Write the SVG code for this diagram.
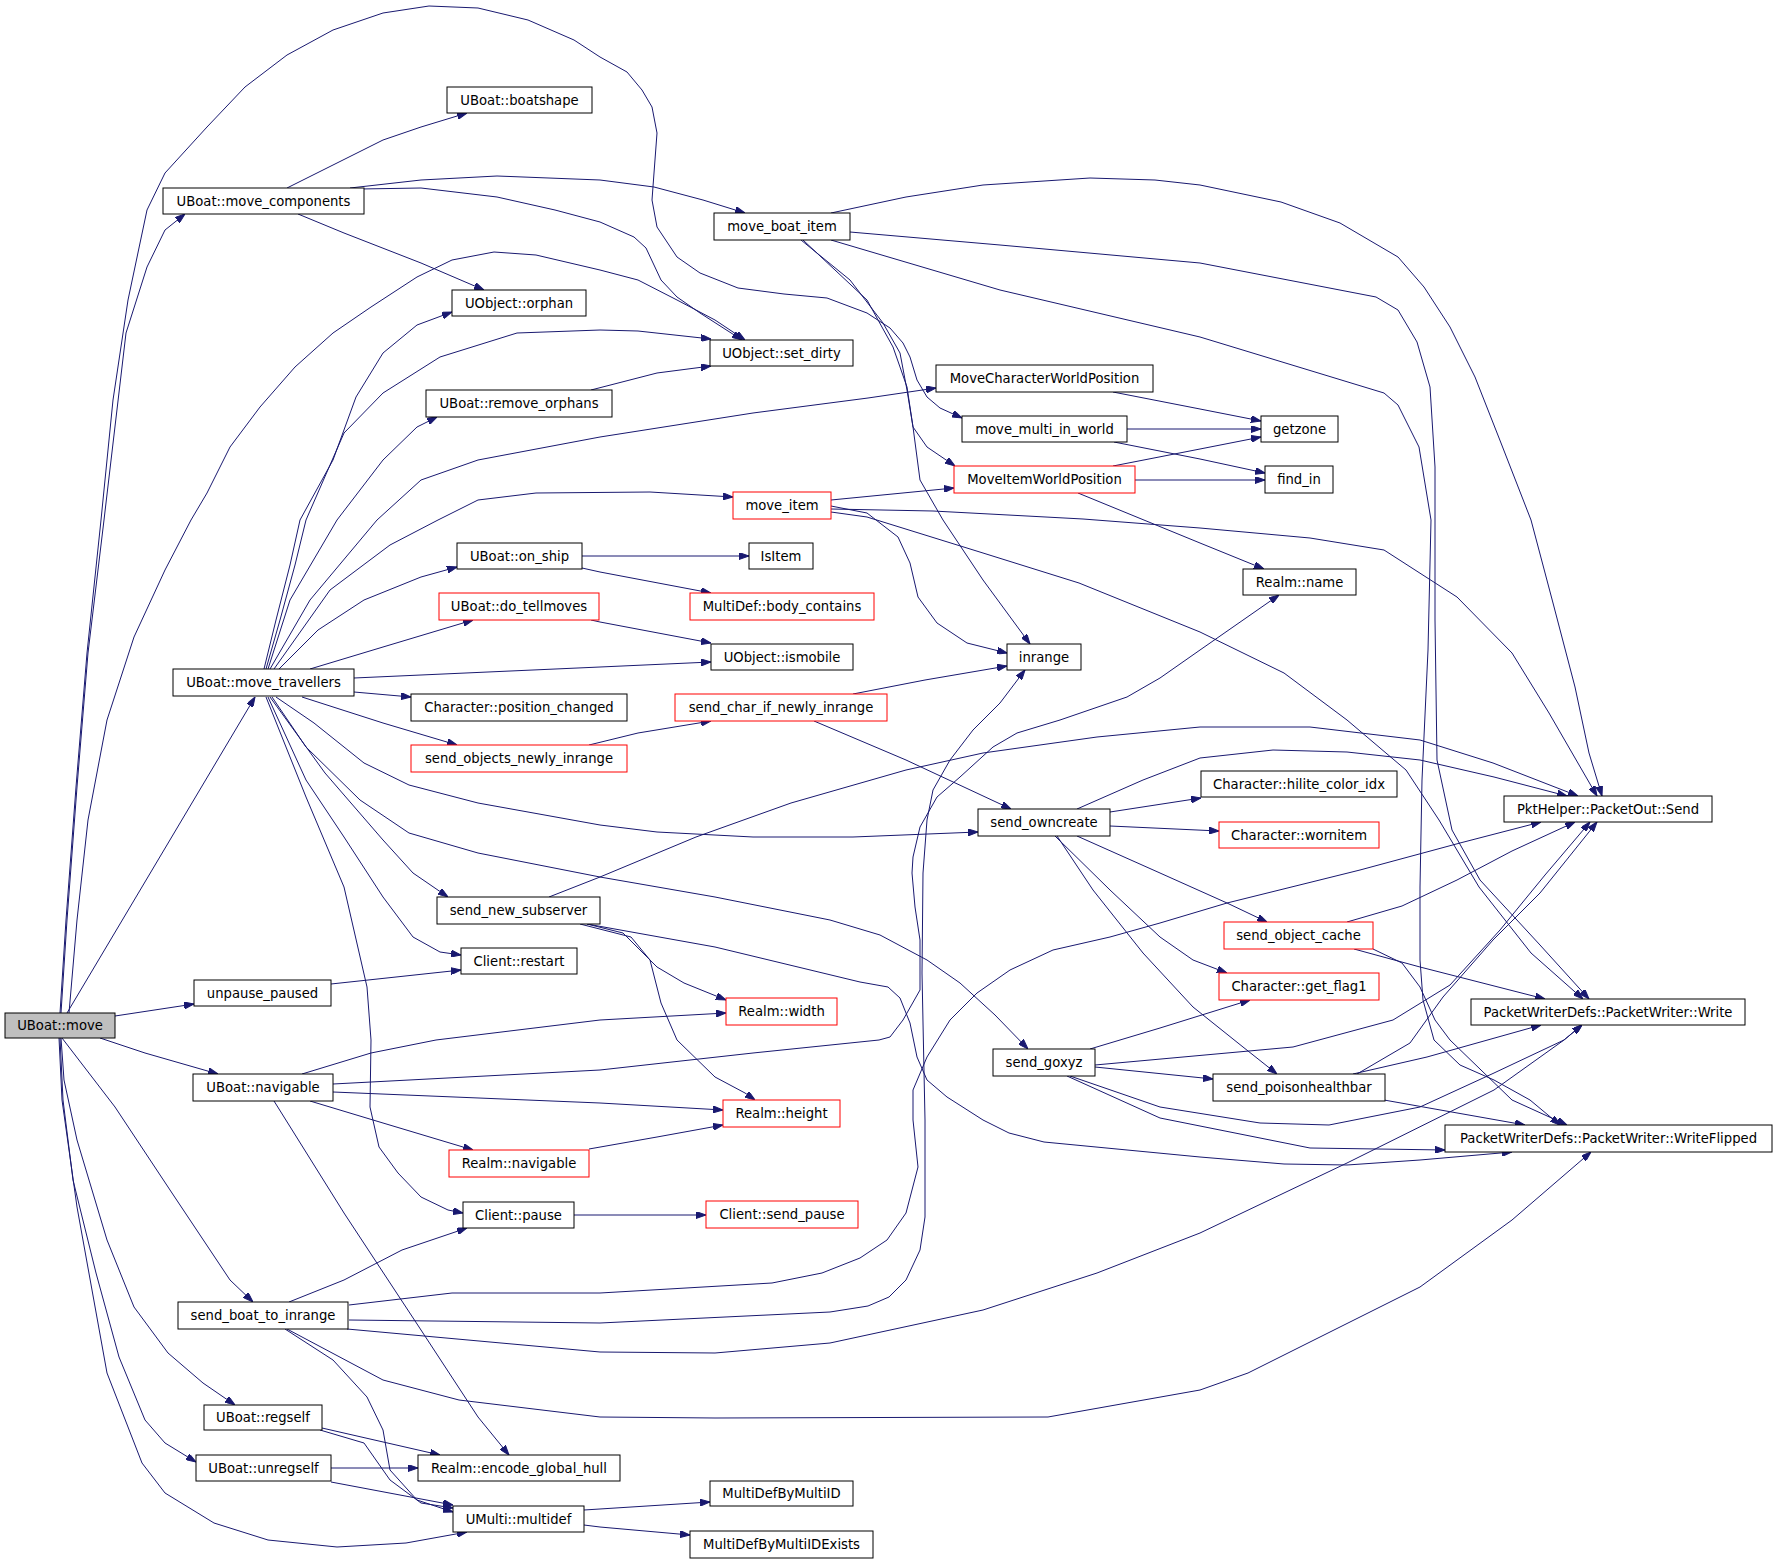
<svg xmlns="http://www.w3.org/2000/svg" width="1776" height="1562" viewBox="0 0 1776 1562">
<style>
.e{fill:none;stroke:#191970;stroke-width:1;marker-end:url(#ah)}
.n rect{fill:#fff;stroke:#000;stroke-width:1}
.r rect{fill:#fff;stroke:#ff0000;stroke-width:1}
.g rect{fill:#bfbfbf;stroke:#000;stroke-width:1}
text{font-family:"DejaVu Sans","Liberation Sans",sans-serif;font-size:13.2px;text-anchor:middle;fill:#000}
</style>
<defs>
<marker id="ah" markerUnits="userSpaceOnUse" markerWidth="10" markerHeight="7" refX="10" refY="3.5" orient="auto">
<path d="M0,0 L10,3.5 L0,7 z" fill="#191970" stroke="#191970"/>
</marker>
</defs>
<rect width="1776" height="1562" fill="#fff"/>
<g id="edges">
<path class="e" d="M61,1013 L67,920 L77,787 L88,653 L104,520 L126,333 L147,267 L165,230 L185,214"/>
<path class="e" d="M60,1013 L66,920 L76,787 L87,653 L101,520 L113,400 L128,300 L147,210 L165,173 L207,127 L245,87 L287,55 L333,30 L383,13 L429,6 L478,8 L528,20 L574,40 L600,57 L627,72 L642,90 L652,107 L657,133 L654,173 L652,200 L657,227 L677,257 L700,273 L738,288 L784,294 L827,298 L867,313 L890,328 L903,343 L910,357 L917,380 L927,397 L940,408 L962,418"/>
<path class="e" d="M69,1013 L77,920 L88,820 L107,720 L134,637 L165,570 L191,520 L207,493 L230,447 L260,407 L295,367 L333,333 L371,307 L417,277 L452,260 L494,252 L536,255 L600,270 L638,280 L677,300 L715,320 L745,340"/>
<path class="e" d="M67,1013 L255,697"/>
<path class="e" d="M115,1016 L194,1004"/>
<path class="e" d="M100,1038 L145,1053 L218,1074"/>
<path class="e" d="M62,1038 L115,1107 L172,1193 L230,1280 L253,1302"/>
<path class="e" d="M61,1038 L64,1080 L77,1140 L107,1240 L134,1307 L168,1353 L203,1383 L235,1405"/>
<path class="e" d="M60,1038 L63,1100 L73,1180 L96,1273 L119,1357 L145,1420 L165,1443 L196,1462"/>
<path class="e" d="M59,1038 L62,1100 L77,1207 L107,1373 L142,1463 L165,1493 L214,1523 L268,1540 L337,1547 L406,1543 L467,1532"/>
<path class="e" d="M287,188 L337,163 L383,140 L421,127 L467,113"/>
<path class="e" d="M350,188 L421,180 L497,176 L600,180 L654,187 L703,200 L745,213"/>
<path class="e" d="M360,189 L421,188 L497,197 L555,210 L600,222 L634,237 L646,248 L661,280 L677,297 L700,313 L742,340"/>
<path class="e" d="M298,214 L344,233 L421,263 L484,290"/>
<path class="e" d="M264,669 L276,620 L290,565 L300,520 L333,460 L356,397 L383,353 L417,325 L452,312"/>
<path class="e" d="M266,669 L280,620 L295,565 L306,520 L344,433 L383,393 L440,357 L517,333 L600,330 L638,331 L711,339"/>
<path class="e" d="M268,669 L290,600 L337,520 L383,460 L417,427 L437,417"/>
<path class="e" d="M270,669 L310,600 L377,520 L421,480 L478,460 L600,437 L753,413 L868,398 L936,388"/>
<path class="e" d="M274,669 L330,590 L390,545 L438,520 L478,500 L536,493 L650,492 L733,497"/>
<path class="e" d="M279,669 L318,630 L364,600 L421,577 L457,567"/>
<path class="e" d="M310,669 L383,647 L473,620"/>
<path class="e" d="M354,678 L600,667 L711,662"/>
<path class="e" d="M354,692 L411,697"/>
<path class="e" d="M302,697 L383,723 L457,745"/>
<path class="e" d="M276,697 L314,723 L364,763 L409,785 L478,803 L600,825 L657,832 L753,837 L853,837 L978,832"/>
<path class="e" d="M272,697 L306,747 L360,800 L409,833 L478,853 L600,877 L715,897 L830,920 L880,935 L927,960 L960,983 L995,1015 L1028,1049"/>
<path class="e" d="M270,697 L325,773 L383,840 L413,873 L448,897"/>
<path class="e" d="M268,697 L306,780 L344,837 L383,897 L413,937 L440,952 L461,955"/>
<path class="e" d="M266,697 L306,797 L344,887 L367,987 L371,1040 L370,1107 L379,1147 L398,1173 L421,1197 L448,1210 L463,1213"/>
<path class="e" d="M591,390 L657,373 L711,366"/>
<path class="e" d="M331,984 L461,970"/>
<path class="e" d="M582,556 L749,556"/>
<path class="e" d="M582,568 L600,572 L711,593"/>
<path class="e" d="M591,620 L600,622 L711,643"/>
<path class="e" d="M589,745 L638,733 L711,721"/>
<path class="e" d="M853,694 L925,680 L1007,666"/>
<path class="e" d="M814,721 L906,760 L1011,809"/>
<path class="e" d="M831,500 L954,488"/>
<path class="e" d="M831,506 L867,513 L898,537 L910,563 L918,597 L937,623 L967,643 L1007,653"/>
<path class="e" d="M831,509 L933,511 L1083,519 L1200,528 L1310,538 L1384,550 L1457,597 L1512,653 L1549,713 L1597,796"/>
<path class="e" d="M831,512 L867,517 L983,553 L1079,583 L1200,632 L1284,673 L1347,720 L1406,770 L1439,820 L1479,887 L1531,953 L1583,999"/>
<path class="e" d="M850,232 L1000,245 L1200,263 L1376,297 L1398,310 L1417,342 L1430,387 L1435,467 L1435,620 L1437,760 L1452,830 L1480,880 L1540,945 L1589,999"/>
<path class="e" d="M831,240 L1000,290 L1200,337 L1384,393 L1398,405 L1419,447 L1431,520 L1428,650 L1422,780 L1420,887 L1420,960 L1423,1000 L1434,1040 L1460,1065 L1494,1080 L1530,1100 L1560,1125"/>
<path class="e" d="M831,213 L906,197 L983,185 L1090,178 L1155,180 L1200,185 L1281,202 L1340,223 L1398,257 L1424,287 L1450,327 L1475,377 L1501,443 L1531,520 L1553,603 L1575,687 L1589,753 L1602,796"/>
<path class="e" d="M801,240 L850,280 L883,323 L900,353 L907,390 L913,427 L927,447 L955,466"/>
<path class="e" d="M803,240 L867,300 L893,347 L907,387 L913,427 L920,480 L943,520 L983,580 L1030,644"/>
<path class="e" d="M1113,392 L1200,409 L1261,421"/>
<path class="e" d="M1127,429 L1261,429"/>
<path class="e" d="M1114,442 L1200,459 L1265,473"/>
<path class="e" d="M1113,466 L1200,449 L1261,437"/>
<path class="e" d="M1135,480 L1265,480"/>
<path class="e" d="M1078,493 L1200,543 L1264,569"/>
<path class="e" d="M574,1215 L706,1215"/>
<path class="e" d="M302,1074 L371,1053 L436,1040 L600,1020 L726,1013"/>
<path class="e" d="M333,1084 L600,1070 L753,1053 L879,1040 L890,1037 L903,1020 L920,990 L920,940 L915,907 L912,873 L913,857 L920,827 L937,797 L960,777 L993,747 L1017,733 L1060,720 L1127,697 L1160,678 L1200,650 L1279,595"/>
<path class="e" d="M333,1092 L600,1103 L723,1110"/>
<path class="e" d="M310,1101 L383,1123 L473,1150"/>
<path class="e" d="M274,1101 L344,1213 L421,1330 L478,1417 L509,1455"/>
<path class="e" d="M589,1149 L657,1137 L723,1125"/>
<path class="e" d="M587,924 L623,933 L657,967 L684,983 L726,1000"/>
<path class="e" d="M580,924 L631,937 L650,960 L661,1003 L677,1040 L715,1077 L745,1093 L755,1100"/>
<path class="e" d="M549,897 L600,877 L696,837 L791,803 L906,770 L983,753 L1097,737 L1200,727 L1310,727 L1420,740 L1493,763 L1578,796"/>
<path class="e" d="M587,924 L715,947 L860,982 L888,987 L900,998 L910,1023 L917,1057 L927,1080 L947,1097 L983,1120 L1009,1133 L1044,1142 L1200,1157 L1284,1164 L1347,1165 L1420,1160 L1512,1152"/>
<path class="e" d="M1110,812 L1201,798"/>
<path class="e" d="M1110,826 L1219,831"/>
<path class="e" d="M1077,809 L1143,780 L1200,758 L1273,750 L1347,752 L1420,760 L1494,777 L1567,796"/>
<path class="e" d="M1077,836 L1160,873 L1227,903 L1267,922"/>
<path class="e" d="M1055,836 L1110,890 L1160,937 L1193,960 L1227,973"/>
<path class="e" d="M1057,836 L1093,890 L1143,953 L1193,1007 L1243,1047 L1277,1074"/>
<path class="e" d="M1347,922 L1402,906 L1457,880 L1512,851 L1575,822"/>
<path class="e" d="M1354,949 L1420,967 L1545,999"/>
<path class="e" d="M1373,949 L1402,963 L1420,987 L1435,1020 L1450,1040 L1512,1100 L1567,1125"/>
<path class="e" d="M1090,1049 L1160,1028 L1250,1000"/>
<path class="e" d="M1095,1065 L1293,1047 L1393,1020 L1450,985 L1500,930 L1545,875 L1590,822"/>
<path class="e" d="M1095,1067 L1213,1079"/>
<path class="e" d="M1070,1076 L1160,1107 L1260,1123 L1329,1125 L1420,1107 L1494,1073 L1564,1040 L1582,1025"/>
<path class="e" d="M1067,1076 L1160,1118 L1310,1148 L1445,1150"/>
<path class="e" d="M1353,1074 L1427,1057 L1541,1025"/>
<path class="e" d="M1384,1100 L1525,1125"/>
<path class="e" d="M1357,1074 L1410,1043 L1443,997 L1493,940 L1540,893 L1597,822"/>
<path class="e" d="M289,1302 L344,1280 L402,1250 L467,1228"/>
<path class="e" d="M349,1305 L452,1293 L600,1293 L772,1283 L822,1273 L860,1258 L887,1240 L906,1213 L918,1167 L913,1120 L913,1090 L927,1057 L950,1020 L977,993 L1010,970 L1053,950 L1110,937 L1160,923 L1227,903 L1360,870 L1460,843 L1541,822"/>
<path class="e" d="M349,1320 L600,1323 L830,1312 L868,1306 L889,1297 L906,1280 L920,1250 L925,1217 L925,1120 L922,973 L923,873 L927,820 L933,790 L950,760 L973,730 L1000,703 L1025,670"/>
<path class="e" d="M347,1329 L600,1352 L715,1353 L830,1343 L983,1310 L1097,1273 L1200,1233 L1347,1163 L1494,1090 L1564,1040 L1582,1025"/>
<path class="e" d="M287,1329 L383,1380 L459,1400 L600,1417 L715,1418 L1048,1417 L1200,1390 L1248,1373 L1420,1287 L1512,1220 L1591,1152"/>
<path class="e" d="M285,1329 L333,1360 L367,1397 L383,1430 L390,1470 L417,1500 L453,1512"/>
<path class="e" d="M322,1428 L440,1455"/>
<path class="e" d="M320,1430 L364,1443 L390,1480 L421,1503 L453,1508"/>
<path class="e" d="M331,1468 L418,1468"/>
<path class="e" d="M331,1482 L453,1505"/>
<path class="e" d="M584,1510 L710,1502"/>
<path class="e" d="M584,1525 L600,1527 L690,1535"/>
</g>
<g id="n_move" class="g"><rect x="5" y="1013" width="110" height="25"/><text x="60" y="1030">UBoat::move</text></g>
<g id="n_move_components" class="n"><rect x="163" y="188" width="201" height="26"/><text x="263.5" y="205.5">UBoat::move_components</text></g>
<g id="n_boatshape" class="n"><rect x="447" y="87" width="145" height="26"/><text x="519.5" y="104.5">UBoat::boatshape</text></g>
<g id="n_orphan" class="n"><rect x="452" y="290" width="134" height="26"/><text x="519" y="307.5">UObject::orphan</text></g>
<g id="n_remove_orphans" class="n"><rect x="426" y="390" width="186" height="27"/><text x="519" y="408">UBoat::remove_orphans</text></g>
<g id="n_set_dirty" class="n"><rect x="710" y="340" width="143" height="26"/><text x="781.5" y="357.5">UObject::set_dirty</text></g>
<g id="n_move_boat_item" class="n"><rect x="714" y="213" width="136" height="27"/><text x="782" y="231">move_boat_item</text></g>
<g id="n_MoveCharacterWorldPosition" class="n"><rect x="936" y="365" width="217" height="27"/><text x="1044.5" y="383">MoveCharacterWorldPosition</text></g>
<g id="n_move_multi_in_world" class="n"><rect x="962" y="416" width="165" height="26"/><text x="1044.5" y="433.5">move_multi_in_world</text></g>
<g id="n_MoveItemWorldPosition" class="r"><rect x="954" y="466" width="181" height="27"/><text x="1044.5" y="484">MoveItemWorldPosition</text></g>
<g id="n_move_item" class="r"><rect x="733" y="492" width="98" height="27"/><text x="782" y="510">move_item</text></g>
<g id="n_getzone" class="n"><rect x="1261" y="416" width="77" height="26"/><text x="1299.5" y="433.5">getzone</text></g>
<g id="n_find_in" class="n"><rect x="1265" y="466" width="68" height="27"/><text x="1299" y="484">find_in</text></g>
<g id="n_on_ship" class="n"><rect x="457" y="543" width="125" height="26"/><text x="519.5" y="560.5">UBoat::on_ship</text></g>
<g id="n_IsItem" class="n"><rect x="749" y="543" width="64" height="26"/><text x="781" y="560.5">IsItem</text></g>
<g id="n_body_contains" class="r"><rect x="690" y="593" width="184" height="27"/><text x="782" y="611">MultiDef::body_contains</text></g>
<g id="n_do_tellmoves" class="r"><rect x="439" y="593" width="160" height="27"/><text x="519" y="611">UBoat::do_tellmoves</text></g>
<g id="n_ismobile" class="n"><rect x="711" y="644" width="142" height="26"/><text x="782" y="661.5">UObject::ismobile</text></g>
<g id="n_inrange" class="n"><rect x="1007" y="644" width="74" height="26"/><text x="1044" y="661.5">inrange</text></g>
<g id="n_Realm_name" class="n"><rect x="1243" y="569" width="113" height="26"/><text x="1299.5" y="586.5">Realm::name</text></g>
<g id="n_move_travellers" class="n"><rect x="173" y="669" width="181" height="27"/><text x="263.5" y="687">UBoat::move_travellers</text></g>
<g id="n_position_changed" class="n"><rect x="411" y="694" width="216" height="27"/><text x="519" y="712">Character::position_changed</text></g>
<g id="n_send_char_if_newly_inrange" class="r"><rect x="675" y="694" width="212" height="27"/><text x="781" y="712">send_char_if_newly_inrange</text></g>
<g id="n_send_objects_newly_inrange" class="r"><rect x="411" y="745" width="216" height="27"/><text x="519" y="763">send_objects_newly_inrange</text></g>
<g id="n_hilite_color_idx" class="n"><rect x="1201" y="771" width="196" height="26"/><text x="1299" y="788.5">Character::hilite_color_idx</text></g>
<g id="n_PacketOut_Send" class="n"><rect x="1504" y="796" width="208" height="26"/><text x="1608" y="813.5">PktHelper::PacketOut::Send</text></g>
<g id="n_send_owncreate" class="n"><rect x="978" y="809" width="132" height="27"/><text x="1044" y="827">send_owncreate</text></g>
<g id="n_wornitem" class="r"><rect x="1219" y="822" width="160" height="26"/><text x="1299" y="839.5">Character::wornitem</text></g>
<g id="n_send_new_subserver" class="n"><rect x="437" y="897" width="163" height="27"/><text x="518.5" y="915">send_new_subserver</text></g>
<g id="n_send_object_cache" class="r"><rect x="1224" y="922" width="149" height="27"/><text x="1298.5" y="940">send_object_cache</text></g>
<g id="n_Client_restart" class="n"><rect x="461" y="948" width="116" height="26"/><text x="519" y="965.5">Client::restart</text></g>
<g id="n_get_flag1" class="r"><rect x="1219" y="973" width="160" height="27"/><text x="1299" y="991">Character::get_flag1</text></g>
<g id="n_unpause_paused" class="n"><rect x="194" y="980" width="137" height="26"/><text x="262.5" y="997.5">unpause_paused</text></g>
<g id="n_Realm_width" class="r"><rect x="726" y="998" width="111" height="27"/><text x="781.5" y="1016">Realm::width</text></g>
<g id="n_PacketWriter_Write" class="n"><rect x="1471" y="999" width="274" height="26"/><text x="1608" y="1016.5">PacketWriterDefs::PacketWriter::Write</text></g>
<g id="n_send_goxyz" class="n"><rect x="993" y="1049" width="102" height="27"/><text x="1044" y="1067">send_goxyz</text></g>
<g id="n_UBoat_navigable" class="n"><rect x="193" y="1074" width="140" height="27"/><text x="263" y="1092">UBoat::navigable</text></g>
<g id="n_send_poisonhealthbar" class="n"><rect x="1213" y="1074" width="172" height="27"/><text x="1299" y="1092">send_poisonhealthbar</text></g>
<g id="n_Realm_height" class="r"><rect x="723" y="1100" width="117" height="27"/><text x="781.5" y="1118">Realm::height</text></g>
<g id="n_PacketWriter_WriteFlipped" class="n"><rect x="1445" y="1125" width="327" height="27"/><text x="1608.5" y="1143">PacketWriterDefs::PacketWriter::WriteFlipped</text></g>
<g id="n_Realm_navigable" class="r"><rect x="449" y="1150" width="140" height="27"/><text x="519" y="1168">Realm::navigable</text></g>
<g id="n_Client_pause" class="n"><rect x="463" y="1202" width="111" height="26"/><text x="518.5" y="1219.5">Client::pause</text></g>
<g id="n_Client_send_pause" class="r"><rect x="706" y="1201" width="152" height="27"/><text x="782" y="1219">Client::send_pause</text></g>
<g id="n_send_boat_to_inrange" class="n"><rect x="178" y="1302" width="170" height="27"/><text x="263" y="1320">send_boat_to_inrange</text></g>
<g id="n_regself" class="n"><rect x="204" y="1405" width="118" height="25"/><text x="263" y="1422">UBoat::regself</text></g>
<g id="n_unregself" class="n"><rect x="196" y="1455" width="135" height="26"/><text x="263.5" y="1472.5">UBoat::unregself</text></g>
<g id="n_encode_global_hull" class="n"><rect x="418" y="1455" width="202" height="26"/><text x="519" y="1472.5">Realm::encode_global_hull</text></g>
<g id="n_multidef" class="n"><rect x="453" y="1506" width="131" height="26"/><text x="518.5" y="1523.5">UMulti::multidef</text></g>
<g id="n_MultiDefByMultiID" class="n"><rect x="710" y="1481" width="143" height="25"/><text x="781.5" y="1498">MultiDefByMultiID</text></g>
<g id="n_MultiDefByMultiIDExists" class="n"><rect x="690" y="1531" width="183" height="27"/><text x="781.5" y="1549">MultiDefByMultiIDExists</text></g>
</svg>
